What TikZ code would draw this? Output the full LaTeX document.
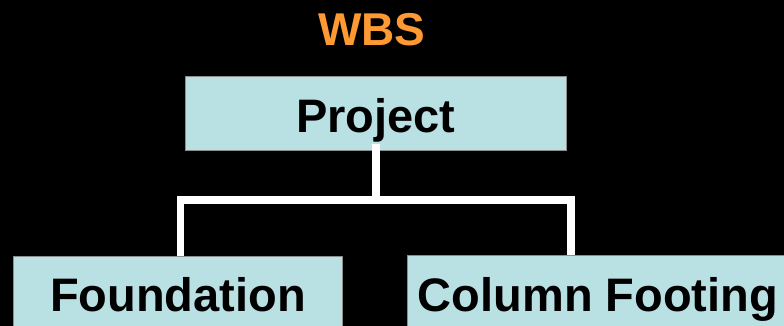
\documentclass[tikz,border=0pt]{standalone}
\usepackage{fontspec}
\setmainfont{Liberation Sans}
\definecolor{boxfill}{RGB}{185,224,227}
\definecolor{wbsorange}{RGB}{255,153,51}
\begin{document}
\begin{tikzpicture}[x=1pt,y=-1pt,
  wbsbox/.style={draw=black!45, line width=0.8pt, fill=boxfill, rectangle,
    inner sep=0pt, text height=37pt, text depth=0pt,
    font=\fontsize{47}{50}\selectfont\bfseries, text=black},
  link/.style={draw=white, line width=7.6pt, line join=miter}]
\fill[black] (0,0) rectangle (784,326);
\useasboundingbox (0,0) rectangle (784,326);
\node[font=\fontsize{46}{50}\selectfont\bfseries, text=wbsorange, anchor=base] (title) at (372,46) {WBS};
\begin{scope}
\clip (0,0) rectangle (784,326);
\node[wbsbox, minimum width=381pt, minimum height=74pt] (proj) at (375.8,113.5) {Project};
\node[wbsbox, minimum width=329pt, minimum height=74pt] (found) at (178,293) {Foundation};
\node[wbsbox, minimum width=382pt, minimum height=74pt] (colf) at (598,292.5) {Column Footing};
\end{scope}
\coordinate (junc) at (375.8,200);
\draw[link] ([yshift=7pt]proj.south) -- (junc);
\draw[link] ([xshift=2.5pt]found.north) |- (junc) -| ([xshift=-27pt]colf.north);
\end{tikzpicture}
\end{document}
